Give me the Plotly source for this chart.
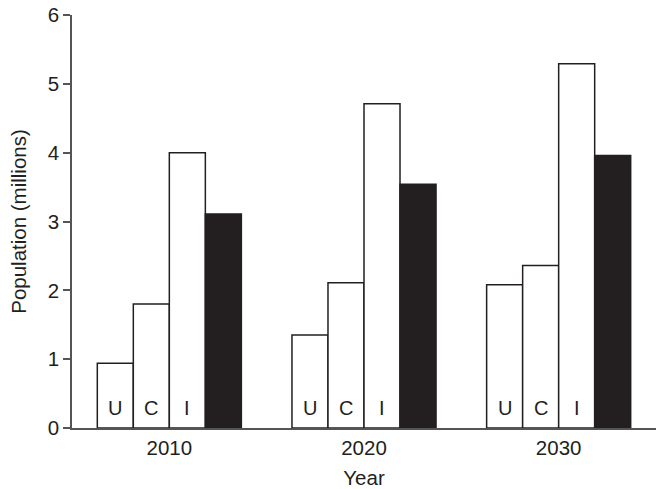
import plotly.graph_objects as go

# Population projections (millions) by year
years = ["2010", "2020", "2030"]
series_names = ["U", "C", "I", "Total"]
u_values = [0.94, 1.35, 2.08]
c_values = [1.80, 2.11, 2.36]
i_values = [4.00, 4.71, 5.29]
total_values = [3.11, 3.54, 3.96]
bar_labels = ["U", "C", "I", ""]

INK = "#231f20"
AXIS = "#555555"
FONT = "Liberation Sans, Arial, sans-serif"
FS = 20.5

x_pos = list(range(len(years)))
all_values = [u_values, c_values, i_values, total_values]
fills = ["white", "white", "white", INK]

BARGAP = 0.26
n_series = len(all_values)
bar_w = (1 - BARGAP) / n_series

fig = go.Figure()
for name, vals, fill in zip(series_names, all_values, fills):
    fig.add_trace(go.Bar(
        x=x_pos, y=vals, name=name,
        marker=dict(color=fill, line=dict(color=INK, width=1.5)),
        showlegend=False, hoverinfo="skip",
    ))

# Letter labels near the base of each open bar
annotations = []
for k, lab in enumerate(bar_labels):
    if not lab:
        continue
    offset = (k - (n_series - 1) / 2) * bar_w
    for xi in x_pos:
        annotations.append(dict(
            x=xi + offset, y=0, xref="x", yref="y",
            text=lab, showarrow=False, yanchor="middle", xanchor="center",
            yshift=20, font=dict(family=FONT, size=20, color=INK),
        ))

fig.update_layout(
    width=656, height=489,
    margin=dict(l=72, r=0, t=15, b=61),
    paper_bgcolor="white", plot_bgcolor="white",
    barmode="group", bargap=BARGAP, bargroupgap=0,
    font=dict(family=FONT, size=FS, color=INK),
    annotations=annotations,
    xaxis=dict(
        range=[-0.5, 2.5], tickvals=x_pos, ticktext=years,
        showline=True, linecolor=AXIS, linewidth=1.5,
        ticks="", showgrid=False, zeroline=False,
        tickfont=dict(size=FS), ticklabelstandoff=1,
        title=dict(text="Year", standoff=12, font=dict(size=FS)),
    ),
    yaxis=dict(
        range=[0, 6], tickvals=[0, 1, 2, 3, 4, 5, 6],
        showline=True, linecolor=AXIS, linewidth=1.5,
        ticks="outside", ticklen=7, tickcolor=AXIS, tickwidth=1.5,
        showgrid=False, zeroline=False,
        tickfont=dict(size=FS),
        title=dict(text="Population (millions)", standoff=16, font=dict(size=FS)),
    ),
)

fig.write_html("out.html")
